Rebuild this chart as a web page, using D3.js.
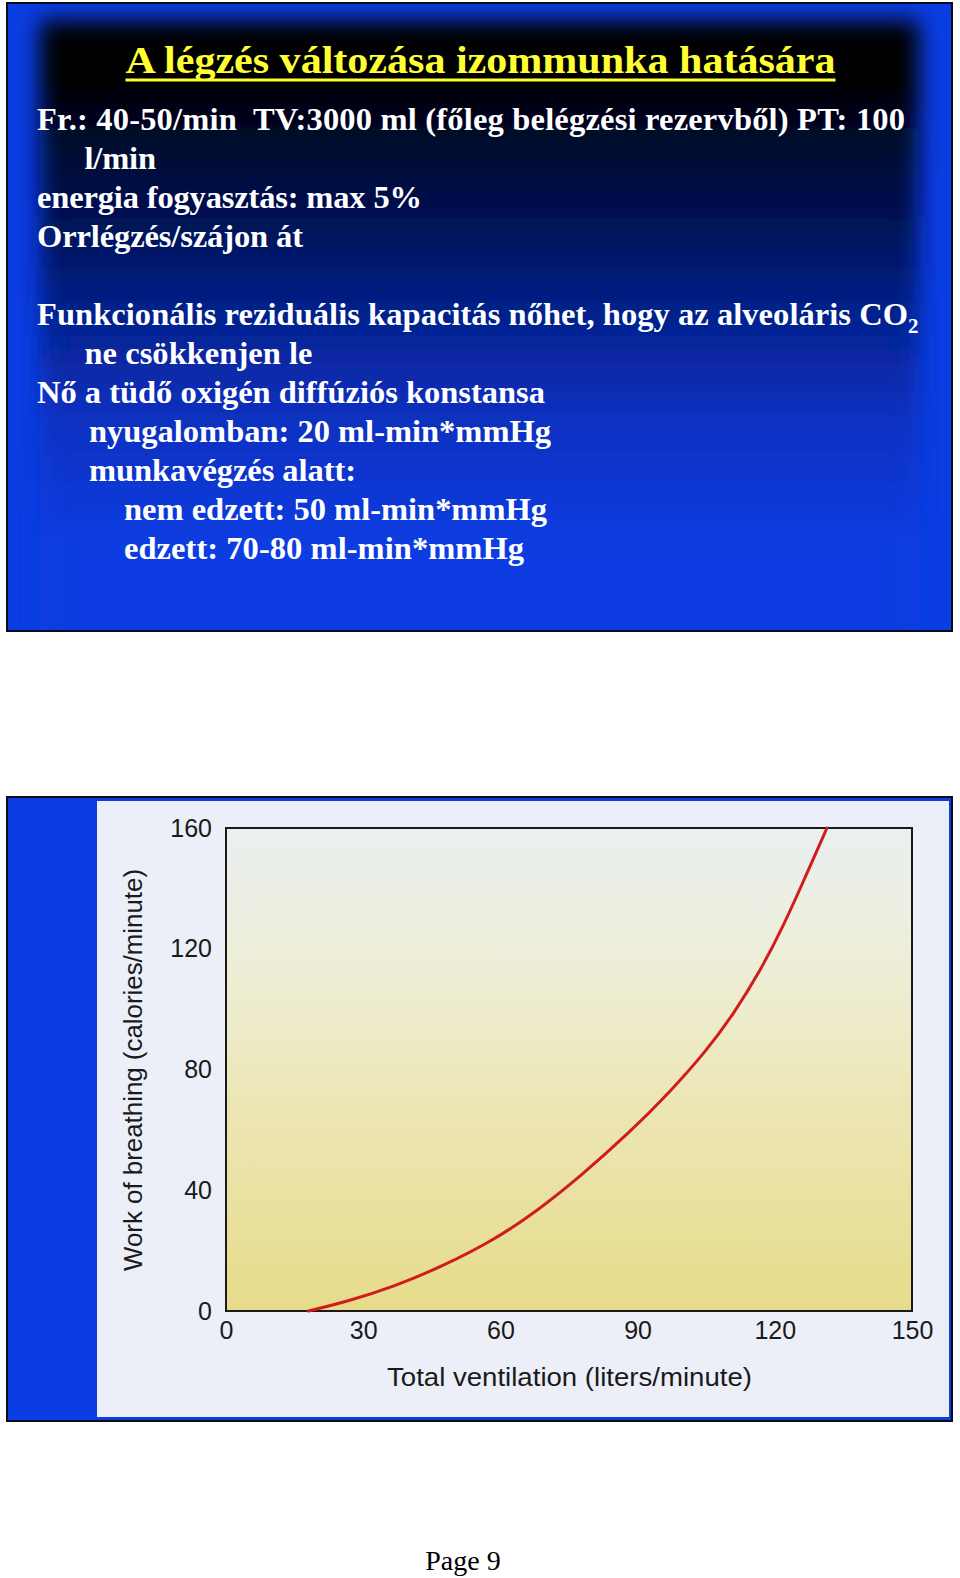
<!DOCTYPE html>
<html>
<head>
<meta charset="utf-8">
<script src="https://cdn.jsdelivr.net/npm/d3@7"></script>
<style>
  body { margin: 0; background: #fff; }
  svg { display: block; }
</style>
</head>
<body>
<script>
// slide text
var titleText = "A légzés változása izommunka hatására";
var slideLines = [
  {text: "Fr.: 40-50/min  TV:3000 ml (főleg belégzési rezervből) PT: 100", level: 0},
  {text: "l/min", level: 1},
  {text: "energia fogyasztás: max 5%", level: 0},
  {text: "Orrlégzés/szájon át", level: 0},
  {text: "", level: 0},
  {text: "Funkcionális reziduális kapacitás nőhet, hogy az alveoláris CO", sub: "2", level: 0},
  {text: "ne csökkenjen le", level: 1},
  {text: "Nő a tüdő oxigén diffúziós konstansa", level: 0},
  {text: "nyugalomban: 20 ml-min*mmHg", level: 2},
  {text: "munkavégzés alatt:", level: 2},
  {text: "nem edzett: 50 ml-min*mmHg", level: 3},
  {text: "edzett: 70-80 ml-min*mmHg", level: 3}
];
// line widths as set on the slide (px)
var lineWidths = [868, 71.5, 385, 266, 0, 871, 228, 508, 462, 267, 423, 400];

// chart data
var ventilation     = [18, 26.4, 36.6, 47.5, 58.5, 67.9, 77.4, 88.3, 97.1, 105.1, 110.9, 116.8, 121.9, 126.6, 131.4];
var workOfBreathing = [0, 3.1, 8.0, 14.9, 23.4, 33, 44.5, 59.2, 72.6, 86.3, 98.2, 112.6, 127.6, 143.5, 160];
var xTicks = [0, 30, 60, 90, 120, 150];
var yTicks = [0, 40, 80, 120, 160];
var xLabel = "Total ventilation (liters/minute)";
var yLabel = "Work of breathing (calories/minute)";
var pageLabel = "Page 9";

var W = 960, H = 1578;
var blue = "#0a3de2";
var serif = "'Liberation Serif', 'Times New Roman', serif";
var sans = "'Liberation Sans', Arial, Helvetica, sans-serif";

var svg = d3.select("body").append("svg")
  .attr("width", W)
  .attr("height", H);

var defs = svg.append("defs");

// dark inner glow of the first slide
var dark = defs.append("linearGradient")
  .attr("id", "dark")
  .attr("x1", 0).attr("y1", 0).attr("x2", 0).attr("y2", 1);
[[0, "#000000"], [0.09, "#000000"], [0.2, "#010a33"], [0.32, "#03135a"],
 [0.45, "#06228e"], [0.6, "#0830bf"], [0.8, blue]].forEach(function(s){
  dark.append("stop").attr("offset", s[0]).attr("stop-color", s[1]);
});

defs.append("filter")
  .attr("id", "soft")
  .attr("x", "-10%").attr("y", "-10%").attr("width", "120%").attr("height", "120%")
  .append("feGaussianBlur").attr("stdDeviation", 11);

defs.append("clipPath").attr("id", "slideClip")
  .append("rect").attr("x", 7).attr("y", 3).attr("width", 945).attr("height", 628);

// paper colour inside the plot box
var paper = defs.append("linearGradient")
  .attr("id", "paper")
  .attr("x1", 0).attr("y1", 0).attr("x2", 0).attr("y2", 1);
[[0, "#eaeff0"], [0.3, "#eeeed6"], [0.6, "#ece5b2"], [1, "#e6dc8a"]].forEach(function(s){
  paper.append("stop").attr("offset", s[0]).attr("stop-color", s[1]);
});

// ---------- slide 1 ----------
svg.append("rect")
  .attr("x", 7).attr("y", 3).attr("width", 945).attr("height", 628)
  .attr("fill", blue);

svg.append("g").attr("clip-path", "url(#slideClip)")
  .append("rect")
  .attr("x", 40).attr("y", 20).attr("width", 879).attr("height", 660)
  .attr("fill", "url(#dark)")
  .attr("filter", "url(#soft)");

svg.append("rect")
  .attr("x", 7).attr("y", 3).attr("width", 945).attr("height", 628)
  .attr("fill", "none")
  .attr("stroke", "#0b0b1a")
  .attr("stroke-width", 2);

svg.append("text")
  .attr("x", 125.5).attr("y", 73)
  .attr("textLength", 710)
  .attr("lengthAdjust", "spacingAndGlyphs")
  .style("font-family", serif)
  .style("font-weight", "bold")
  .style("font-size", "38px")
  .attr("fill", "#ffff33")
  .text(titleText);

svg.append("rect")
  .attr("x", 125.5).attr("y", 78.5).attr("width", 710).attr("height", 3)
  .attr("fill", "#ffff33");

var indent = [37, 84.5, 89, 124];

var lines = svg.append("g")
  .style("font-family", serif)
  .style("font-weight", "bold")
  .style("font-size", "32.5px")
  .attr("fill", "#ffffff");

lines.selectAll("text")
  .data(slideLines.filter(function(d){ return d.text !== ""; }))
  .enter()
  .append("text")
  .attr("x", function(d){ return indent[d.level]; })
  .attr("y", function(d){ return 130 + 39 * slideLines.indexOf(d); })
  .style("white-space", "pre")
  .each(function(d){
    var t = d3.select(this);
    t.append("tspan")
      .attr("textLength", lineWidths[slideLines.indexOf(d)])
      .attr("lengthAdjust", "spacing")
      .text(d.text);
    if (d.sub) {
      t.append("tspan")
        .attr("dy", 8)
        .style("font-size", "21px")
        .text(d.sub);
    }
  });

// ---------- slide 2 (figure) ----------
svg.append("rect")
  .attr("x", 7).attr("y", 797).attr("width", 945).attr("height", 624)
  .attr("fill", blue)
  .attr("stroke", "#0b0b1a")
  .attr("stroke-width", 2);

svg.append("rect")
  .attr("x", 97).attr("y", 801).attr("width", 852).attr("height", 616)
  .attr("fill", "#eceff7");

var x = d3.scaleLinear().domain([0, 150]).range([226, 912]);
var y = d3.scaleLinear().domain([0, 160]).range([1311, 828]);

svg.append("rect")
  .attr("x", x(0)).attr("y", y(160))
  .attr("width", x(150) - x(0)).attr("height", y(0) - y(160))
  .attr("fill", "url(#paper)")
  .attr("stroke", "#1a1a1a")
  .attr("stroke-width", 2);

var xAxis = svg.append("g")
  .attr("transform", "translate(0," + y(0) + ")")
  .call(d3.axisBottom(x).tickValues(xTicks).tickSize(0).tickPadding(10));

var yAxis = svg.append("g")
  .attr("transform", "translate(" + x(0) + ",0)")
  .call(d3.axisLeft(y).tickValues(yTicks).tickSize(0).tickPadding(14));

[xAxis, yAxis].forEach(function(a){
  a.select(".domain").remove();
  a.selectAll("text")
    .style("font-family", sans)
    .style("font-size", "25px")
    .attr("fill", "#1a1a1a");
});

svg.append("text")
  .attr("x", 387).attr("y", 1386)
  .attr("textLength", 365)
  .attr("lengthAdjust", "spacingAndGlyphs")
  .style("font-family", sans)
  .style("font-size", "26px")
  .attr("fill", "#1a1a1a")
  .text(xLabel);

svg.append("text")
  .attr("transform", "translate(142,1271) rotate(-90)")
  .attr("textLength", 402)
  .attr("lengthAdjust", "spacingAndGlyphs")
  .style("font-family", sans)
  .style("font-size", "26px")
  .attr("fill", "#1a1a1a")
  .text(yLabel);

var line = d3.line()
  .x(function(d){ return x(d[0]); })
  .y(function(d){ return y(d[1]); })
  .curve(d3.curveBasis);

svg.append("path")
  .datum(d3.zip(ventilation, workOfBreathing))
  .attr("d", line)
  .attr("fill", "none")
  .attr("stroke", "#d01c1c")
  .attr("stroke-width", 3)
  .attr("stroke-linecap", "round");

// page number
svg.append("text")
  .attr("x", 463).attr("y", 1570)
  .attr("text-anchor", "middle")
  .style("font-family", serif)
  .style("font-size", "28px")
  .attr("fill", "#000")
  .text(pageLabel);
</script>
</body>
</html>
